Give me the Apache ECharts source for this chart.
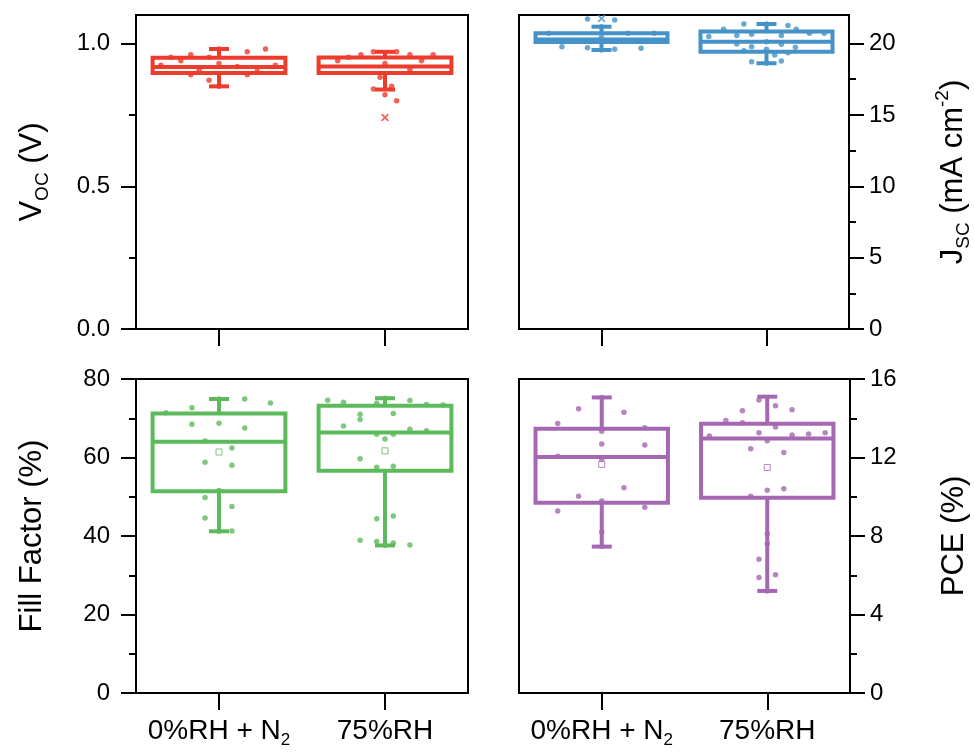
<!DOCTYPE html>
<html>
<head>
<meta charset="utf-8">
<script src="https://cdn.jsdelivr.net/npm/echarts@6/dist/echarts.min.js"></script>
<style>
  html, body { margin: 0; padding: 0; background: #fff; }
  #main { width: 974px; height: 752px; }
</style>
</head>
<body>
<div id="main"></div>
<script>
// categories (N2 gets its subscript in the label formatter)
const categories = ['0%RH + N2', '75%RH'];

// box stats per category: [lower whisker, Q1, median, Q3, upper whisker]
const vocBox = [[0.850, 0.897, 0.918, 0.950, 0.981], [0.839, 0.897, 0.920, 0.951, 0.971]];
const jscBox = [[19.55, 20.11, 20.29, 20.72, 21.18], [18.62, 19.43, 20.13, 20.84, 21.37]];
const ffBox = [[41.2, 51.4, 64.0, 71.2, 74.9], [37.6, 56.6, 66.4, 73.2, 75.1]];
const pceBox = [[7.46, 9.69, 12.03, 13.46, 15.06], [5.20, 9.95, 12.97, 13.72, 15.10]];

// means (open squares)
const ffMean = [61.4, 61.7];
const pceMean = [11.65, 11.49];

// outliers [category index, value]
const vocOutliers = [[1, 0.741]];
const jscOutliers = [[0, 21.75]];

// individual devices [jitter, value], one list per category
const vocPts0 = [[0, 0.981], [0.28, 0.981], [0.17, 0.971], [-0.17, 0.961], [-0.29, 0.952], [-0.06, 0.952], [-0.23, 0.940], [0, 0.930], [-0.35, 0.924], [0.34, 0.924], [0.11, 0.920], [-0.12, 0.909], [0.23, 0.903], [-0.17, 0.891], [0.17, 0.891], [-0.06, 0.871], [0, 0.850]];
const vocPts1 = [[-0.07, 0.971], [0.07, 0.971], [-0.145, 0.961], [0.15, 0.961], [0.29, 0.961], [-0.22, 0.952], [-0.285, 0.940], [0.22, 0.940], [0, 0.930], [0.15, 0.909], [-0.03, 0.882], [0.04, 0.850], [-0.07, 0.841], [0, 0.821], [0.07, 0.800]];
const jscPts0 = [[-0.085, 21.72], [0.08, 21.65], [0, 21.18], [-0.32, 20.72], [0.16, 20.72], [0.32, 20.72], [0, 20.44], [-0.24, 19.78], [-0.085, 19.71], [0.24, 19.67], [0.08, 19.60], [0, 19.55]];
const jscPts1 = [[-0.137, 21.37], [0.13, 21.26], [0, 21.37], [-0.26, 21.0], [0.18, 21.0], [-0.35, 20.49], [-0.18, 20.56], [-0.09, 20.65], [0.09, 20.56], [0.26, 20.72], [0.35, 20.72], [0, 20.13], [-0.18, 19.97], [0.09, 19.95], [-0.09, 19.78], [0.175, 19.74], [-0.137, 19.5], [0, 19.6], [0.13, 19.36], [0.05, 19.2], [-0.09, 18.73], [0.09, 18.78], [0, 18.62]];
const ffPts0 = [[-0.163, 72.7], [0.155, 74.9], [0.31, 73.9], [0, 74.9], [-0.32, 71.4], [-0.163, 68.5], [0, 68.7], [0.155, 67.5], [-0.084, 64.2], [0.078, 62.4], [-0.084, 58.8], [0.078, 58.0], [0, 51.6], [-0.084, 49.8], [0.078, 47.5], [-0.084, 44.6], [0, 41.2], [0.078, 41.3]];
const ffPts1 = [[-0.345, 74.6], [-0.25, 74.1], [-0.05, 73.8], [0.15, 74.5], [0.25, 73.5], [0.35, 73.4], [0, 75.1], [-0.15, 71.0], [0.05, 71.2], [-0.15, 69.7], [-0.25, 68.0], [0.15, 67.2], [0.25, 66.8], [-0.05, 65.9], [0.05, 65.9], [0, 64.7], [-0.15, 59.7], [-0.05, 57.5], [0.05, 57.8], [-0.05, 44.4], [0.05, 45.1], [-0.15, 38.9], [-0.05, 38.6], [0.05, 38.2], [0.15, 37.7], [0, 37.6]];
const pcePts0 = [[-0.14, 14.48], [0.134, 14.30], [-0.266, 13.73], [0.26, 13.51], [0, 13.34], [0, 12.69], [0.26, 12.64], [-0.266, 12.06], [0, 11.89], [0.134, 10.46], [-0.14, 10.02], [0, 9.78], [-0.266, 9.27], [0.26, 9.47], [0, 8.19], [0, 15.06], [0, 7.46]];
const pcePts1 = [[-0.05, 14.93], [0.05, 14.64], [-0.15, 14.38], [0.15, 14.43], [-0.25, 13.89], [-0.15, 13.77], [0.05, 13.55], [-0.35, 13.10], [-0.05, 13.26], [0.15, 13.15], [0.25, 13.2], [0.35, 13.26], [0, 12.85], [-0.1, 12.44], [0.1, 12.25], [0, 10.33], [0.1, 10.41], [-0.1, 10.02], [0, 8.11], [0, 7.60], [-0.05, 6.81], [-0.05, 5.88], [0.05, 6.03], [0, 5.20]];

// y ticks
const vocTicks = [0, 0.5, 1.0], vocMinor = [0.25, 0.75];
const jscTicks = [0, 5, 10, 15, 20], jscMinor = [2.5, 7.5, 12.5, 17.5];
const ffTicks = [0, 20, 40, 60, 80], ffMinor = [10, 30, 50, 70];
const pceTicks = [0, 4, 8, 12, 16], pceMinor = [2, 6, 10, 14];

const RED = '#EE3B2C', BLUE = '#4592C8', GREEN = '#5CBA5C', PURPLE = '#A667B2';
const FONT = 'Liberation Sans';

var chart = echarts.init(document.getElementById('main'));

const grids = [
  { left: 136, top: 15, width: 332, height: 314 },
  { left: 519, top: 15, width: 331, height: 314 },
  { left: 136, top: 379, width: 332, height: 314 },
  { left: 519, top: 379, width: 331, height: 314 }
].map(g => Object.assign(g, { show: true, borderColor: '#000', borderWidth: 2, backgroundColor: 'transparent' }));

// x labels
const labelRich = {
  n: { fontSize: 28, fontFamily: FONT, color: '#000', lineHeight: 36, verticalAlign: 'middle' },
  s: { fontSize: 17, fontFamily: FONT, color: '#000', lineHeight: 17, verticalAlign: 'bottom' }
};
// axis names, a bit larger
const nameRich = {
  n: { fontSize: 31, fontFamily: FONT, color: '#000', lineHeight: 40, verticalAlign: 'middle' },
  s: { fontSize: 19, fontFamily: FONT, color: '#000', lineHeight: 19, verticalAlign: 'bottom' },
  p: { fontSize: 19, fontFamily: FONT, color: '#000', lineHeight: 19, verticalAlign: 'top' }
};

function catAxis(gi, withLabels) {
  return {
    type: 'category', gridIndex: gi, data: categories,
    axisLine: { show: true, onZero: false, lineStyle: { color: '#000', width: 2 } },
    axisTick: { show: true, alignWithLabel: true, interval: 0, length: 17, lineStyle: { color: '#000', width: 2 } },
    axisLabel: {
      show: withLabels, margin: 20,
      formatter: v => v.endsWith('N2') ? '{n|' + v.slice(0, -1) + '}{s|2}' : '{n|' + v + '}',
      rich: labelRich
    }
  };
}

function jitterAxis(gi) {
  return { type: 'value', gridIndex: gi, min: -0.5, max: 1.5, show: false };
}

function valAxis(gi, max, ticks, pos, margin, name, nameGap, fmt) {
  return {
    type: 'value', gridIndex: gi, min: 0, max: max, position: pos,
    name: name, nameLocation: 'middle', nameGap: nameGap, nameRotate: 90,
    nameTextStyle: { rich: nameRich },
    splitLine: { show: false },
    axisLine: { show: true, onZero: false, lineStyle: { color: '#000', width: 2 } },
    axisTick: { show: true, customValues: ticks, length: 15, lineStyle: { color: '#000', width: 2 } },
    axisLabel: { customValues: ticks, margin: margin, fontSize: 24, fontFamily: FONT, color: '#000', formatter: fmt }
  };
}

function minorAxis(gi, max, minor, pos) {
  return {
    type: 'value', gridIndex: gi, min: 0, max: max, position: pos,
    splitLine: { show: false },
    axisLine: { show: false, onZero: false },
    axisTick: { show: true, customValues: minor, length: 7, lineStyle: { color: '#000', width: 2 } },
    axisLabel: { show: false }
  };
}

const xAxis = [catAxis(0, false), catAxis(1, false), catAxis(2, true), catAxis(3, true),
  jitterAxis(0), jitterAxis(1), jitterAxis(2), jitterAxis(3)];

const yAxis = [
  valAxis(0, 1.1, vocTicks, 'left', 26, '{n|V}{s|OC}{n| (V)}', 84, v => v.toFixed(1)),
  valAxis(1, 22, jscTicks, 'right', 20, '{n|J}{s|SC}{n| (mA cm}{p|-2}{n|)}', 84, v => v),
  valAxis(2, 80, ffTicks, 'left', 26, '{n|Fill Factor (%)}', 84, v => v),
  valAxis(3, 16, pceTicks, 'right', 20, '{n|PCE (%)}', 84, v => v),
  minorAxis(0, 1.1, vocMinor, 'left'),
  minorAxis(1, 22, jscMinor, 'right'),
  minorAxis(2, 80, ffMinor, 'left'),
  minorAxis(3, 16, pceMinor, 'right')
];

function boxRender(color) {
  return function (params, api) {
    const c = api.value(0);
    const lo = api.coord([c, api.value(1)]);
    const q1 = api.coord([c, api.value(2)]);
    const md = api.coord([c, api.value(3)]);
    const q3 = api.coord([c, api.value(4)]);
    const hi = api.coord([c, api.value(5)]);
    const bw = api.size([1, 0])[0] * 0.8;
    const x = q1[0];
    const cap = 10;
    const st = { stroke: color, lineWidth: 4, fill: 'none' };
    return {
      type: 'group',
      children: [
        { type: 'line', shape: { x1: x, y1: q3[1], x2: x, y2: hi[1] }, style: st },
        { type: 'line', shape: { x1: x, y1: q1[1], x2: x, y2: lo[1] }, style: st },
        { type: 'line', shape: { x1: x - cap, y1: hi[1], x2: x + cap, y2: hi[1] }, style: st },
        { type: 'line', shape: { x1: x - cap, y1: lo[1], x2: x + cap, y2: lo[1] }, style: st },
        { type: 'rect', shape: { x: x - bw / 2, y: q3[1], width: bw, height: q1[1] - q3[1] }, style: st },
        { type: 'line', shape: { x1: x - bw / 2, y1: md[1], x2: x + bw / 2, y2: md[1] }, style: st }
      ]
    };
  };
}

const series = [];
function addPanel(gi, color, box, pts0, pts1, mean, outliers) {
  series.push({
    type: 'custom', xAxisIndex: gi, yAxisIndex: gi,
    renderItem: boxRender(color),
    encode: { x: 0, y: [1, 2, 3, 4, 5] },
    data: box.map((b, i) => [i].concat(b)),
    silent: true
  });
  series.push({
    type: 'scatter', xAxisIndex: gi + 4, yAxisIndex: gi,
    symbolSize: 5.5, itemStyle: { color: color },
    data: pts0.map(p => [0 + p[0], p[1]]).concat(pts1.map(p => [1 + p[0], p[1]])),
    silent: true, z: 3
  });
  if (mean) {
    series.push({
      type: 'scatter', xAxisIndex: gi, yAxisIndex: gi,
      symbol: 'rect', symbolSize: 6,
      itemStyle: { color: '#fff', borderColor: color, borderWidth: 1 },
      data: mean.map((m, i) => [i, m]), silent: true, z: 4
    });
  }
  if (outliers) {
    series.push({
      type: 'scatter', xAxisIndex: gi, yAxisIndex: gi,
      symbol: 'path://M0,1.5L1.5,0L5,3.5L8.5,0L10,1.5L6.5,5L10,8.5L8.5,10L5,6.5L1.5,10L0,8.5L3.5,5Z', symbolSize: 8,
      itemStyle: { color: color },
      data: outliers, silent: true, z: 4
    });
  }
}

addPanel(0, RED, vocBox, vocPts0, vocPts1, null, vocOutliers);
addPanel(1, BLUE, jscBox, jscPts0, jscPts1, null, jscOutliers);
addPanel(2, GREEN, ffBox, ffPts0, ffPts1, ffMean, null);
addPanel(3, PURPLE, pceBox, pcePts0, pcePts1, pceMean, null);

chart.setOption({
  animation: false,
  textStyle: { fontFamily: FONT },
  grid: grids,
  xAxis: xAxis,
  yAxis: yAxis,
  series: series
});
</script>
</body>
</html>
